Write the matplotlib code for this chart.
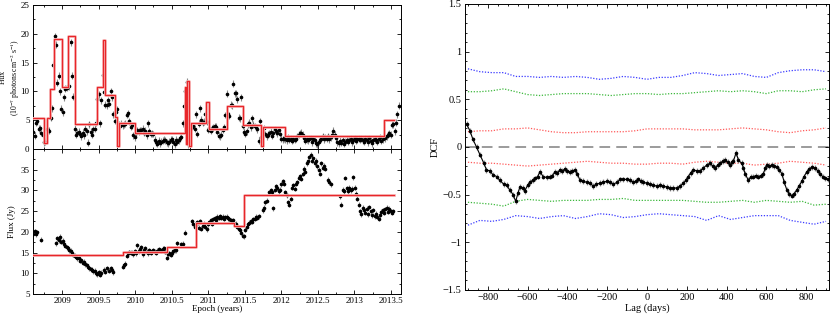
import numpy as np
import matplotlib
matplotlib.use('Agg')
from matplotlib import pyplot as plt
from matplotlib.ticker import MultipleLocator

plt.rcParams['font.family'] = ['Liberation Serif', 'DejaVu Serif']
plt.rcParams['font.size'] = 7
plt.rcParams['mathtext.fontset'] = 'stix'

nan = np.nan

# --- gamma-ray light curve (Fermi-LAT), ~weekly bins
lat_t0 = 2008.608
lat_step = 0.01824
lat_flux = [3.0, 2.3, 4.6, 4.8, 3.5, 3.6, 2.8, 2.5, 1.2, 1.3,
            3.4, 3.3, 3.2, 5.4, 7.1, 14.6, 19.6, 18.1, 11.5, 12.7,
            10.0, 7.0, 6.4, 9.0, 10.5, 10.6, 11.0, 10.9, 18.5, 12.7,
            9.1, 3.5, 2.5, 2.8, 3.0, 2.6, 2.2, 2.8, 2.4, 3.5,
            3.1, 1.1, 4.3, 3.0, 2.5, 3.4, 3.5, 4.6, 8.7, 9.5,
            4.5, 8.5, 12.8, 9.9, 7.7, 7.6, 8.5, 7.9, 10.0, 9.0,
            6.0, 4.9, 6.4, 6.9, 4.3, 4.0, 4.4, 4.1, 4.3, 4.4,
            5.9, 6.2, 4.8, 3.9, 4.1, 2.4, 2.0, 2.7, 3.3, 3.0,
            3.3, 3.3, 3.5, 2.8, 3.2, 2.4, 4.5, 3.1, 2.6, 2.7,
            2.6, 1.6, 1.2, 0.9, 1.4, 1.0, 1.3, 1.4, 1.6, 1.5,
            1.2, 1.0, 1.3, 1.6, 1.7, 1.3, 0.8, 1.6, 1.3, 1.5,
            1.9, 2.1, 4.5, 7.5, 10.1, 11.7, 0.8, 2.2, 3.7, 3.9,
            4.0, 3.5, 6.0, 2.6, 4.4, 7.1, 5.1, 4.6, 4.7, 6.0,
            4.7, 3.3, 3.6, 3.2, 3.5, 3.8, 4.0, 3.9, 3.0, 2.3,
            2.2, 2.5, 3.3, 3.8, 5.9, 9.6, 6.0, 5.8, 7.7, 7.6,
            11.3, 9.7, 9.7, 8.6, 5.4, 5.3, 9.0, 4.0, 3.0, 2.6,
            3.1, 4.3, 4.6, 3.8, 5.3, 4.2, 4.0, 3.8, 3.4, 1.4,
            4.8, 2.0, 2.8, 3.6, 2.6, 2.2, 2.5, 2.7, 3.0, 2.3,
            2.7, 3.4, 3.1, 2.7, 3.3, 2.6, 1.8, 1.7,
            1.9, 1.7, 1.5, 2.0, 1.6, 1.8, 1.4, 1.7, 1.6, 1.8,
            2.2, 2.5, 2.7, 2.8, 2.5, 1.9, 1.4, 1.7, 1.5, 1.8,
            1.9, 1.2, 1.7, 1.5, 1.0, 0.8, 1.3, 1.6, 1.8, 2.2,
            1.7, 2.0, 1.8, 2.2, 1.7, 2.0, 2.4, 3.2, 2.5, 1.9,
            1.2, 1.0, 1.4, 1.1, 1.5, 0.9, 1.3, 1.6, 1.3, 1.6,
            1.8, 1.2, 1.5, 1.9, 1.4, 1.7, 1.8, 1.6, 1.8, 1.5,
            1.3, 1.8, 1.6, 1.2, 1.9, 1.4, 1.0, 1.5, 1.7, 1.6,
            1.3, 1.8, 2.0, 1.4, 1.7, 2.2, 1.9,
            2.2, 2.5, 2.7, 2.5, 4.2, 4.3, 3.1, 4.6, 6.0, 7.5]
lat_err = 0.6

lat_block_edges = [2008.603, 2008.758, 2008.79, 2008.835, 2008.89, 2008.995, 2009.086,
                   2009.178, 2009.483, 2009.556, 2009.592, 2009.72, 2009.75, 2009.78,
                   2009.994, 2010.686, 2010.70, 2010.712, 2010.738, 2010.77, 2010.97,
                   2011.01, 2011.26, 2011.48, 2011.726, 2011.75, 2012.05, 2013.405, 2013.54]
lat_block_levels = [5.3, 1.1, 5.3, 10.5, 19.1, 10.7, 19.6, 4.4, 10.8, 19.0, 9.3, 5.5, 0.6,
                    4.6, 2.7, 10.8, 0.9, 11.8, 0.6, 4.5, 8.2, 3.5, 7.4, 4.2, 0.6, 3.8, 2.2, 5.0]

# --- radio light curve (Jy)
radio_t0 = 2008.608
radio_step = 0.01824
radio_flux = [19.6, 20.2, 19.4, 19.9, nan, nan, 18.1, nan, nan, nan,
              nan, nan, nan, nan, nan, nan, nan, 17.3, 18.5, 18.0,
              18.8, 17.6, 17.9, 17.0, 16.6, 16.3, 16.0, 15.6, 15.4, 14.8,
              14.5, 14.2, 14.0, 13.6, 13.6, 13.0, 13.2, 12.6, 12.8, 12.2,
              12.0, 11.6, 11.2, 11.0, 10.8, 10.5, 10.6, 10.0, 9.8, 10.2,
              9.7, 10.1, nan, 10.8, 10.4, 11.2, nan, 10.6, 11.2, 10.7,
              10.2, nan, nan, nan, nan, nan, nan, 11.6, 11.9, 12.3,
              14.2, 14.8, 15.1, 14.9, 15.0, 14.6, 15.3, 14.8, 16.8, 15.3,
              15.9, 16.3, 14.6, 15.6, 16.1, 15.2, 14.8, 15.6, 15.0, 15.3,
              15.5, 15.2, 15.0, 15.4, 15.8, 15.6, 15.4, 15.9, 16.0, 15.2,
              13.8, 14.6, 14.8, 14.5, 15.0, 15.3, 15.6, 15.5, 17.3, nan,
              nan, 17.0, 17.1, nan, 19.8, nan, nan, nan, nan, 22.5,
              22.0, 21.2, 21.6, 22.3, 21.0, 22.6, 20.8, 21.5, 22.0, 21.2,
              20.6, 21.8, 22.3, 22.8, 22.0, 23.0, 23.3, 22.8, 23.6, 23.4,
              23.8, 23.4, 23.6, 23.2, 23.5, 23.6, 23.3, 23.0, 22.8, 22.6,
              22.8, 21.8, 22.0, 21.2, 20.8, 20.4, 19.8, 19.0, 18.9, 20.5,
              21.2, 21.8, 22.2, 22.6, 22.4, 23.0, 23.2, 23.6, 23.4, 23.8,
              nan, nan, 25.2, 25.8, 27.2, 27.5, nan, 29.5, 30.0, 29.6,
              25.7, 30.2, 31.0, 30.5, 29.8, 30.2, 31.5, 32.2, 31.6, 29.5,
              28.8, 27.2, 26.6, 28.0, 30.6, 31.2, 30.4, 31.6, 32.0, 33.0,
              33.4, 32.8, 34.0, 35.2, 34.5, 36.5, 37.0, 38.0, 38.6, 37.2,
              37.8, 36.6, 37.2, 35.8, 35.0, 34.0, 36.5, 35.5, 36.0, 35.2,
              nan, 32.6, 32.0, 31.5, nan, nan, nan, nan, nan, nan,
              28.6, 26.5, 30.2, 29.8, 33.0, 30.5, 29.8, 30.6, 30.0, 30.4,
              33.2, 30.6, 29.2, 28.0, 26.5, 25.0, 24.2, 25.8, 25.2, 24.6,
              25.6, 24.2, 26.0, 25.0, 24.0, 25.2, 23.8, 24.4, 23.6, 23.2,
              24.0, 24.8, 25.2, 24.6, 25.4, 25.8, 24.8, 25.6, 25.0, 24.6,
              25.0]
radio_err = 0.6

radio_block_edges = [2008.603, 2009.838, 2010.432, 2010.83, 2011.357, 2011.49, 2013.54]
radio_block_levels = [14.3, 15.1, 16.3, 22.2, 21.4, 28.8]

# --- discrete correlation function
dcf_lag = [-907, -890, -875, -857, -840, -820, -807, -790, -775, -756, -740, -720, -706,
           -690, -673, -660, -648, -639, -625, -614, -600, -589, -575, -564, -550, -538,
           -522, -505, -488, -475, -463, -450, -438, -425, -413, -400, -387, -375, -362,
           -350, -337, -320, -304, -287, -270, -255, -236, -220, -203, -186, -169, -150,
           -136, -120, -102, -85, -69, -55, -44, -30, -18, 0, 15, 30, 49, 65, 82, 100,
           116, 132, 149, 166, 183, 195, 208, 220, 233, 250, 267, 284, 300, 317, 330,
           342, 355, 367, 380, 392, 405, 418, 426, 434, 448, 460, 476, 485, 493, 510,
           522, 535, 548, 560, 572, 585, 595, 602, 615, 627, 640, 652, 665, 678, 690,
           703, 715, 728, 740, 753, 765, 778, 790, 803, 816, 829, 845, 858, 870, 883,
           896, 910]
dcf_val = [0.24, 0.17, 0.08, 0.0, -0.08, -0.17, -0.24, -0.25, -0.29, -0.31, -0.35, -0.39,
           -0.40, -0.45, -0.50, -0.57, -0.48, -0.42, -0.43, -0.46, -0.40, -0.37, -0.35,
           -0.33, -0.31, -0.26, -0.31, -0.32, -0.31, -0.30, -0.26, -0.27, -0.24, -0.25,
           -0.23, -0.25, -0.26, -0.25, -0.24, -0.28, -0.35, -0.36, -0.37, -0.38, -0.41,
           -0.39, -0.38, -0.37, -0.36, -0.37, -0.39, -0.37, -0.34, -0.34, -0.34, -0.35,
           -0.37, -0.36, -0.34, -0.36, -0.37, -0.38, -0.39, -0.40, -0.41, -0.40, -0.41,
           -0.42, -0.43, -0.43, -0.43, -0.41, -0.38, -0.35, -0.31, -0.27, -0.24, -0.25,
           -0.25, -0.22, -0.19, -0.17, -0.20, -0.22, -0.19, -0.17, -0.15, -0.14, -0.16,
           -0.19, -0.16, -0.15, -0.06, -0.14, -0.17, -0.22, -0.28, -0.35, -0.31, -0.31,
           -0.30, -0.31, -0.30, -0.28, -0.22, -0.19, -0.20, -0.19, -0.20, -0.21, -0.24,
           -0.28, -0.37, -0.45, -0.49, -0.51, -0.49, -0.45, -0.41, -0.36, -0.31, -0.26,
           -0.23, -0.21, -0.22, -0.25, -0.28, -0.31, -0.33, -0.34]
dcf_err = 0.03

# significance levels (sampled every 60 days)
sig_lag = np.arange(-900, 901, 60)
sig_blue_up = [0.82, 0.79, 0.78, 0.78, 0.74, 0.74, 0.73, 0.74, 0.73, 0.74, 0.73, 0.71,
               0.72, 0.74, 0.73, 0.71, 0.73, 0.73, 0.75, 0.78, 0.77, 0.75, 0.76, 0.77,
               0.74, 0.73, 0.78, 0.80, 0.81, 0.81, 0.79]
sig_green_up = [0.58, 0.58, 0.59, 0.61, 0.58, 0.55, 0.54, 0.55, 0.56, 0.56, 0.56, 0.55,
                0.54, 0.55, 0.56, 0.56, 0.55, 0.56, 0.56, 0.57, 0.58, 0.59, 0.58, 0.59,
                0.58, 0.56, 0.59, 0.59, 0.58, 0.60, 0.61]
sig_red_up = [0.16, 0.17, 0.17, 0.19, 0.19, 0.20, 0.18, 0.16, 0.15, 0.15, 0.16, 0.16,
              0.16, 0.16, 0.17, 0.19, 0.19, 0.19, 0.19, 0.18, 0.18, 0.18, 0.19, 0.20,
              0.19, 0.18, 0.16, 0.15, 0.17, 0.18, 0.20]
sig_red_lo = [-0.16, -0.17, -0.17, -0.18, -0.19, -0.20, -0.19, -0.18, -0.17, -0.16, -0.15,
              -0.16, -0.17, -0.17, -0.18, -0.18, -0.17, -0.17, -0.18, -0.16, -0.15, -0.16,
              -0.17, -0.17, -0.19, -0.18, -0.17, -0.15, -0.16, -0.17, -0.19]
sig_green_lo = [-0.58, -0.59, -0.60, -0.62, -0.57, -0.55, -0.56, -0.57, -0.56, -0.56, -0.56,
                -0.55, -0.55, -0.54, -0.56, -0.56, -0.56, -0.56, -0.56, -0.57, -0.58, -0.58,
                -0.57, -0.56, -0.58, -0.56, -0.57, -0.58, -0.57, -0.61, -0.60]
sig_blue_lo = [-0.82, -0.77, -0.78, -0.76, -0.72, -0.73, -0.75, -0.73, -0.72, -0.75, -0.73,
               -0.70, -0.71, -0.74, -0.73, -0.71, -0.70, -0.71, -0.72, -0.73, -0.77, -0.72,
               -0.76, -0.74, -0.72, -0.72, -0.72, -0.77, -0.79, -0.81, -0.78]

lat_t = lat_t0 + lat_step * np.arange(len(lat_flux))
radio_t = radio_t0 + radio_step * np.arange(len(radio_flux))


def style_axis(ax):
    ax.tick_params(which='both', direction='in', top=True, right=True, width=0.6,
                   labelsize=6.5, pad=2.5)
    ax.tick_params(which='major', length=3)
    ax.tick_params(which='minor', length=1.5)
    for s in ax.spines.values():
        s.set_linewidth(0.7)


def step_blocks(ax, edges, levels):
    xs = np.repeat(edges, 2)[1:-1]
    ys = np.repeat(levels, 2)
    ax.plot(xs, ys, color='#f8b9b9', lw=2.0, zorder=3)
    ax.plot(xs, ys, color='#e8262a', lw=0.9, zorder=4)


fig = plt.figure(figsize=(8.3, 3.17), dpi=100)
ax1 = fig.add_axes([0.0398, 0.530, 0.4434, 0.454])
ax2 = fig.add_axes([0.0398, 0.0726, 0.4434, 0.4574], sharex=ax1)
ax3 = fig.add_axes([0.5602, 0.0852, 0.4386, 0.9022])

# top: gamma-ray
ax1.errorbar(lat_t, lat_flux, yerr=lat_err, fmt='o', ms=1.6, color='black',
             ecolor='#8c8c8c', elinewidth=0.8, capsize=0, zorder=2)
step_blocks(ax1, lat_block_edges, lat_block_levels)
ax1.set_ylim(0, 25)
ax1.yaxis.set_major_locator(MultipleLocator(5))
ax1.yaxis.set_minor_locator(MultipleLocator(2.5))
plt.setp(ax1.get_xticklabels(), visible=False)
style_axis(ax1)
# two-line y label, placed by hand so it stays inside the figure
ax1.text(-0.081, 0.5, 'Flux', transform=ax1.transAxes, rotation=90,
         ha='center', va='center', fontsize=5.5)
ax1.text(-0.049, 0.5, '(10$^{-7}$ photons cm$^{-2}$ s$^{-1}$)', transform=ax1.transAxes,
         rotation=90, ha='center', va='center', fontsize=5.5)

# bottom: radio
ax2.errorbar(radio_t, radio_flux, yerr=radio_err, fmt='o', ms=1.6, color='black',
             ecolor='#8c8c8c', elinewidth=0.8, capsize=0, zorder=2)
step_blocks(ax2, radio_block_edges, radio_block_levels)
ax2.set_ylim(5, 40)
ax2.set_yticks([5, 10, 15, 20, 25, 30, 35])
ax2.yaxis.set_minor_locator(MultipleLocator(2.5))
ax2.set_xlim(2008.603, 2013.637)
ax2.xaxis.set_major_locator(MultipleLocator(0.5))
ax2.xaxis.set_minor_locator(MultipleLocator(0.25))
ax2.xaxis.set_major_formatter(plt.FuncFormatter(lambda v, p: ('%g' % v)))
ax2.set_xlabel('Epoch (years)', fontsize=6.5, labelpad=0)
ax2.set_ylabel('Flux (Jy)', fontsize=6.5, labelpad=3)
style_axis(ax2)

# right: DCF
ax3.axhline(0, color='#808080', lw=1.1, dashes=(7, 4), zorder=1)
for vals, col in [(sig_blue_up, '#3a3aff'), (sig_green_up, '#3cb83c'), (sig_red_up, '#ff5a5a'),
                  (sig_red_lo, '#ff5a5a'), (sig_green_lo, '#3cb83c'), (sig_blue_lo, '#3a3aff')]:
    ax3.plot(sig_lag, vals, color=col, lw=0.9, ls=(0, (1, 1.3)), zorder=2)
ax3.errorbar(dcf_lag, dcf_val, yerr=dcf_err, fmt='o-', ms=1.6, color='black', lw=0.8,
             ecolor='#9a9a9a', elinewidth=0.9, capsize=0, zorder=3)
ax3.set_xlim(-915, 915)
ax3.set_ylim(-1.5, 1.5)
ax3.xaxis.set_major_locator(MultipleLocator(200))
ax3.xaxis.set_minor_locator(MultipleLocator(50))
ax3.yaxis.set_major_locator(MultipleLocator(0.5))
ax3.yaxis.set_minor_locator(MultipleLocator(0.1))
ax3.yaxis.set_major_formatter(plt.FuncFormatter(lambda v, p: ('%g' % v).replace('-', '\u2212')))
ax3.xaxis.set_major_formatter(plt.FuncFormatter(lambda v, p: ('%g' % v).replace('-', '\u2212')))
ax3.set_xlabel('Lag (days)', fontsize=7.5, labelpad=1)
ax3.set_ylabel('DCF', fontsize=7.5, labelpad=2)
style_axis(ax3)
ax3.tick_params(labelsize=7.5)

fig.savefig('out.png', dpi=100)
